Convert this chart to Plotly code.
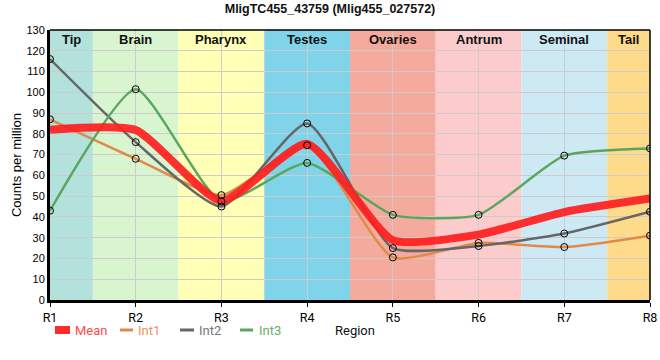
import plotly.graph_objects as go

regions = ["R1", "R2", "R3", "R4", "R5", "R6", "R7", "R8"]
int1 = [87, 68, 50.5, 74.5, 20.5, 27.5, 25.5, 31]
int2 = [116, 76, 45, 85, 25, 26, 32, 42.5]
int3 = [43, 101.5, 47.5, 66, 41, 41, 69.5, 73]
mean = [round((a + b + c) / 3, 2) for a, b, c in zip(int1, int2, int3)]

tissues = ["Tip", "Brain", "Pharynx", "Testes", "Ovaries", "Antrum", "Seminal", "Tail"]
tissue_colors = ["#b3e2dd", "#d9f5d0", "#ffffb5", "#80d4ea", "#f4ab9e", "#fccccc", "#cdeaf4", "#fddb8b"]

series_names = ["Mean", "Int1", "Int2", "Int3"]
series_colors = ["#ff2a2a", "#e08a48", "#666666", "#5ba55f"]
legend_text_colors = ["#ff4a4a", "#e8955a", "#777777", "#6aae6e"]

L, R, T, B, W, H = 50, 10, 30, 60, 660, 360
PW, PH = W - L - R, H - T - B


def px(x):
    return (x - L) / PW


def py(y):
    return (H - B - y) / PH


fig = go.Figure()

shapes = []
annotations = []
for i, (t, c) in enumerate(zip(tissues, tissue_colors)):
    x0 = max(i - 0.5, 0)
    x1 = min(i + 0.5, 7)
    shapes.append(dict(type="rect", xref="x", yref="y", x0=x0, x1=x1, y0=0, y1=130,
                       fillcolor=c, line_width=0, layer="below"))
    annotations.append(dict(x=(x0 + x1) / 2, y=130, xref="x", yref="y", text="<b>%s</b>" % t,
                            showarrow=False, yanchor="top", yshift=0,
                            font=dict(family="Arial", size=13, color="#111")))

# frame top/right
shapes.append(dict(type="line", xref="paper", yref="paper", x0=0, x1=1, y0=1, y1=1,
                   line=dict(color="black", width=1.5), layer="above"))
shapes.append(dict(type="line", xref="paper", yref="paper", x0=1, x1=1, y0=0, y1=1,
                   line=dict(color="black", width=1.5), layer="above"))

SM = 0.55
ints = [int1, int2, int3]
for k, ys in enumerate(ints):
    fig.add_trace(go.Scatter(x=regions, y=ys, mode="lines",
                             line=dict(color=series_colors[k + 1], width=2.5, shape="spline", smoothing=SM),
                             name=series_names[k + 1], showlegend=False))
fig.add_trace(go.Scatter(x=regions, y=mean, mode="lines",
                         line=dict(color="rgba(255,30,30,0.92)", width=8, shape="spline", smoothing=SM),
                         name="Mean", showlegend=False))
for k, ys in enumerate(ints):
    fig.add_trace(go.Scatter(x=regions, y=ys, mode="markers",
                             marker=dict(symbol="circle-open", size=7, color="black", line=dict(width=1)),
                             name=series_names[k + 1], showlegend=False, hoverinfo="skip"))

# manual legend
sw_x = [(55, 70), (120, 133), (180, 194), (240, 253)]
tx_x = [73, 136, 197, 257]
for k in range(4):
    x0, x1 = sw_x[k]
    if k == 0:
        shapes.append(dict(type="rect", xref="paper", yref="paper", x0=px(x0), x1=px(x1),
                           y0=py(334), y1=py(326), fillcolor=series_colors[0], line_width=0))
    else:
        shapes.append(dict(type="line", xref="paper", yref="paper", x0=px(x0), x1=px(x1),
                           y0=py(330), y1=py(330), line=dict(color=series_colors[k], width=3)))
    annotations.append(dict(x=px(tx_x[k]), y=py(330), xref="paper", yref="paper",
                            text=series_names[k], showarrow=False, xanchor="left", yanchor="middle",
                            font=dict(family="Roboto", size=13, color=legend_text_colors[k])))

annotations.append(dict(x=px(355), y=py(331), xref="paper", yref="paper",
                        text="Region", showarrow=False, xanchor="center", yanchor="middle",
                        font=dict(family="Roboto", size=13, color="#111")))

fig.update_layout(
    width=W, height=H,
    margin=dict(l=L, r=R, t=T, b=B, autoexpand=False),
    paper_bgcolor="white", plot_bgcolor="white",
    title=dict(text="<b>MligTC455_43759 (Mlig455_027572)</b>", x=0.5, xanchor="center",
               yref="container", y=1 - 9 / H, yanchor="middle",
               font=dict(family="Arial", size=12.5, color="#111")),
    font=dict(family="Arial", size=12, color="black"),
    shapes=shapes, annotations=annotations,
    showlegend=False,
    xaxis=dict(range=[0, 7], showgrid=True, gridcolor="#cccccc", gridwidth=1, automargin=False,
               showline=True, linecolor="black", linewidth=3, ticks="outside", ticklen=4,
               tickcolor="black", tickfont=dict(family="Roboto", size=12.5, color="black"), zeroline=False,
               fixedrange=True),
    yaxis=dict(range=[0, 130], dtick=10, showgrid=True, gridcolor="#cccccc", gridwidth=1, automargin=False,
               showline=True, linecolor="black", linewidth=3, ticks="", tickfont=dict(family="Arial", size=11, color="black"),
               zeroline=False, title=dict(text="Counts per million", font=dict(family="Arial", size=13, color="black"), standoff=2)),
)

fig.write_html("out.html", config={"displayModeBar": False},
               post_script="document.body.style.margin='0';")
